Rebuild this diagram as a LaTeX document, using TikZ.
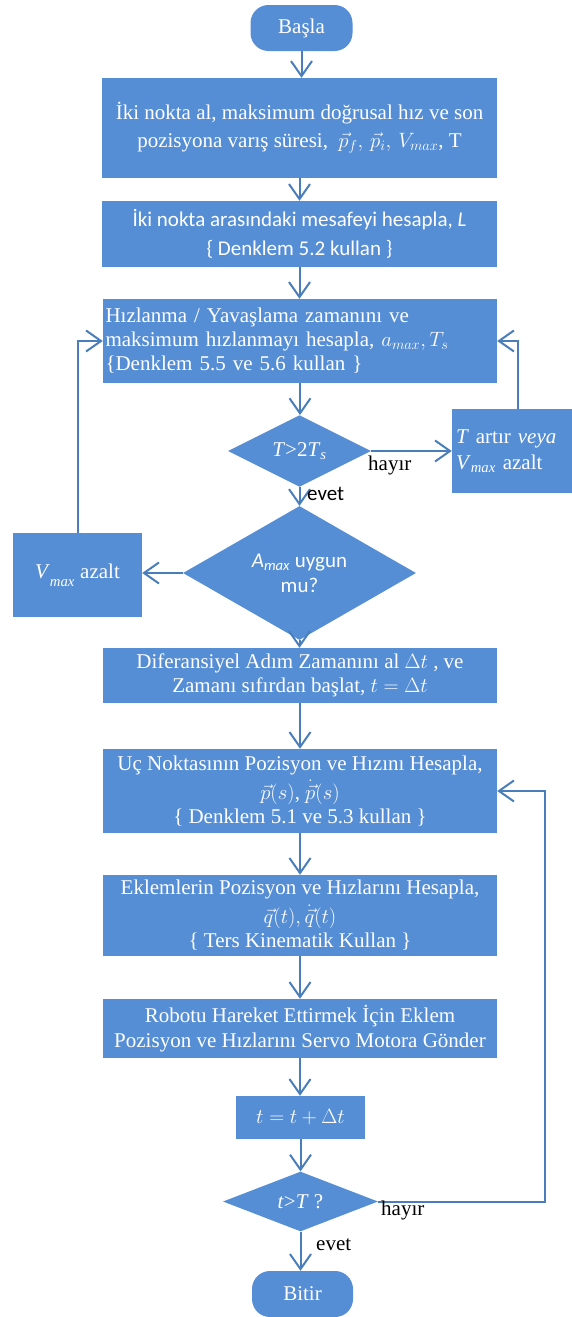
\documentclass[tikz,border=0pt]{standalone}
\usepackage{fontspec}
\setmainfont{Liberation Serif}
\newfontfamily\calibri{Carlito}
\usetikzlibrary{shapes.geometric,arrows.meta}
\definecolor{boxblue}{HTML}{558ED5}
\definecolor{lineblue}{HTML}{4A7EBB}
\tikzset{
  proc/.style={rectangle, fill=boxblue, text=white, inner sep=2pt, align=center,
    font=\fontsize{21}{28}\selectfont},
  term/.style={proc, rounded corners=18pt},
  dec/.style={diamond, fill=boxblue, text=white, inner sep=0pt, align=center,
    font=\fontsize{21}{27}\selectfont},
  arr/.style={draw=lineblue, line width=2pt,
    -{Straight Barb[length=15pt,width=21pt,line width=2pt]}},
  lbl/.style={text=black, inner sep=0pt, anchor=base west},
}
\newcommand{\subit}[1]{\textsubscript{\textit{#1}}}
\begin{document}
\begin{tikzpicture}[x=1pt,y=-1pt]
\useasboundingbox (0,0) rectangle (571,1317);

% main column
\node[term, minimum width=102, minimum height=46] (start) at (301.5,28) {Başla};
\node[proc, minimum width=395, minimum height=100] (b1) at (299.5,128)
  {İki nokta al, maksimum doğrusal hız ve son\\
   pozisyona varış süresi,\ \ $\vec{p}_f,\, \vec{p}_i,\, V_{max}$, T};
\node[proc, minimum width=395, minimum height=66, font=\calibri\fontsize{21}{29}\selectfont] (b2) at (299.5,234)
  {İki nokta arasındaki mesafeyi hesapla, \textit{L}\\
   \{ Denklem 5.2 kullan \}};
\node[proc, minimum height=84, align=left, text width=389, inner xsep=2.5pt,
      font=\fontsize{21}{24}\selectfont] (b3) at (300,341)
  {Hızlanma / Yavaşlama zamanını ve\\
   maksimum hızlanmayı hesapla, $a_{max}, T_s$\\
   \{Denklem 5.5 ve 5.6 kullan \}};
\node[dec, minimum width=143, minimum height=68] (d1) at (299.5,451)
  {\textit{T}>2\textit{T}\subit{s}};
\node[proc, minimum height=84, align=left, text width=123, inner xsep=4pt,
      font=\fontsize{21}{26}\selectfont] (rbox) at (517.5,451)
  {\textit{T} artır \textit{veya}\\ \textit{V}\subit{max} azalt};
\node[dec, minimum width=233, minimum height=111,
      font=\calibri\fontsize{21}{25}\selectfont] (d2) at (299.5,573)
  {\textit{A}\subit{max} uygun\\ mu?};
\node[proc, minimum width=129, minimum height=84] (lbox) at (77.5,575)
  {\textit{V}\raisebox{-0.55ex}{\textsubscript{\textit{max}}} azalt};
\node[proc, minimum width=394, minimum height=55, font=\fontsize{21}{24}\selectfont] (b4) at (300,675.5)
  {Diferansiyel Adım Zamanını al $\Delta t$ , ve\\
   Zamanı sıfırdan başlat, $t = \Delta t$};
\node[proc, minimum width=394, minimum height=84, font=\fontsize{21}{26}\selectfont] (b5) at (300,791)
  {Uç Noktasının Pozisyon ve Hızını Hesapla,\\[3pt]
   $\vec{p}(s)$, $\dot{\vec{p}}(s)$\\[-2pt]
   \{ Denklem 5.1 ve 5.3 kullan \}};
\node[proc, minimum width=394, minimum height=81, font=\fontsize{21}{26}\selectfont] (b6) at (300,915.5)
  {Eklemlerin Pozisyon ve Hızlarını Hesapla,\\[3pt]
   $\vec{q}(t), \dot{\vec{q}}(t)$\\[-2pt]
   \{ Ters Kinematik Kullan \}};
\node[proc, minimum width=394, minimum height=59, font=\fontsize{21}{25}\selectfont] (b7) at (300,1028.5)
  {Robotu Hareket Ettirmek İçin Eklem\\
   Pozisyon ve Hızlarını Servo Motora Gönder};
\node[proc, minimum width=129, minimum height=43] (b8) at (300.5,1117.5)
  {$t = t + \Delta t$};
\node[dec, minimum width=155, minimum height=55] (d3) at (300.5,1201.5)
  {\textit{t}>\textit{T} ?};
\node[term, minimum width=101, minimum height=46] (end) at (302.5,1294) {Bitir};
\coordinate (lp) at (545,0);

% connectors along the main column
\draw[arr] (start.south) -- (start.south |- b1.north);
\draw[arr] (b1.south) -- (b1.south |- b2.north);
\draw[arr] (b2.south) -- (b2.south |- b3.north);
\draw[arr] (b3.south) -- (b3.south |- d1.north);
\draw[arr] (d1.south) -- (d1.south |- d2.north);
\draw[arr] (d2.south) -- (d2.south |- b4.north);
\draw[arr] (b4.south) -- (b4.south |- b5.north);
\draw[arr] (b5.south) -- (b5.south |- b6.north);
\draw[arr] (b6.south) -- (b6.south |- b7.north);
\draw[arr] (b7.south) -- (b7.south |- b8.north);
\draw[arr] (b8.south) -- (b8.south |- d3.north);
\draw[arr] (d3.south) -- (d3.south |- end.north);

% side branches and loops
\draw[arr] (d1.east) -- (rbox.west);
\draw[arr] (rbox.north) |- (b3.east);
\draw[arr] (d2.west) -- (d2.west -| lbox.east);
\draw[arr] (lbox.north) |- (b3.west);
\draw[arr] (d3.east) -- (d3.east -| lp) |- (b5.east);

% branch labels
\node[lbl, font=\fontsize{21}{24}\selectfont] (h1) at (368,470) {hayır};
\node[lbl, font=\calibri\fontsize{21}{24}\selectfont] (e1) at (307,500) {evet};
\node[lbl, font=\fontsize{21}{24}\selectfont] (h2) at (381,1215) {hayır};
\node[lbl, font=\fontsize{21}{24}\selectfont] (e2) at (316,1250) {evet};
\end{tikzpicture}
\end{document}
